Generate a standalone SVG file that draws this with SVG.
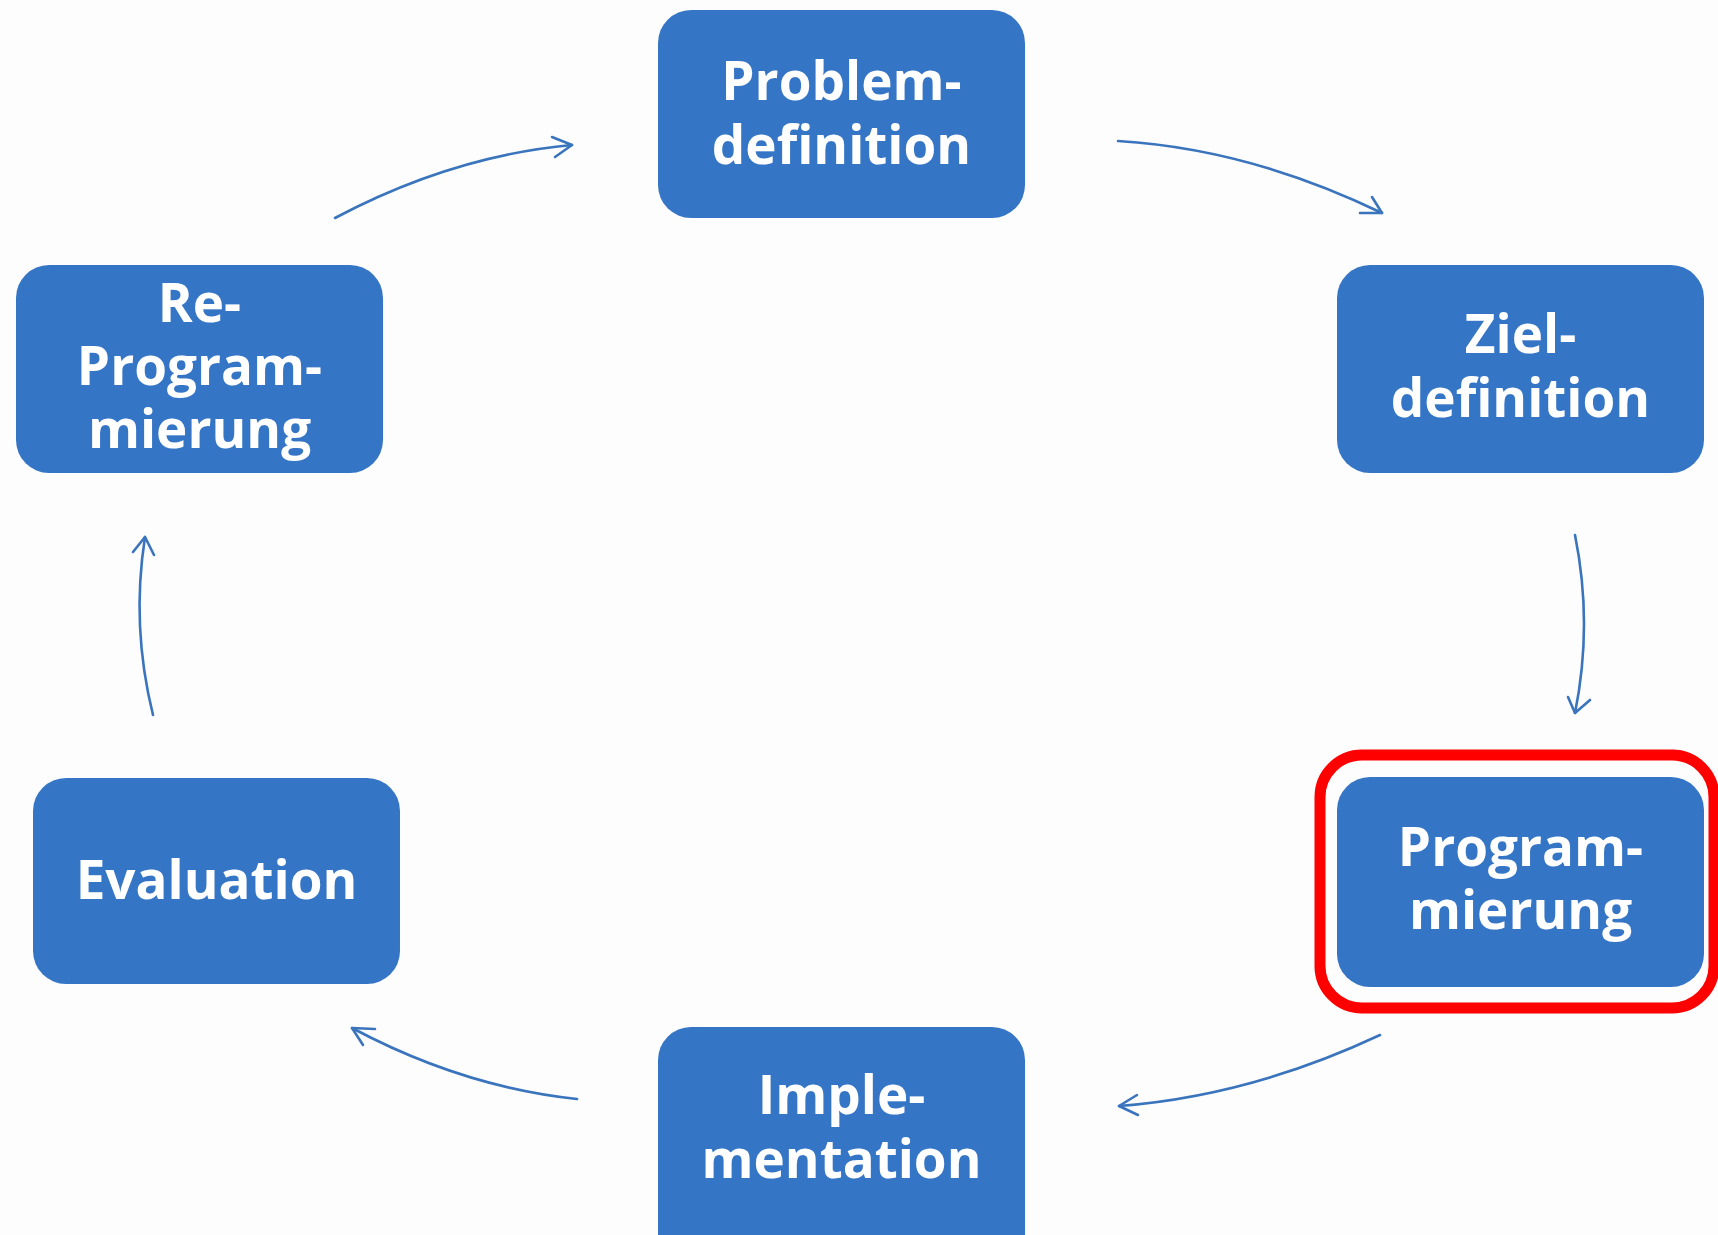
<svg xmlns="http://www.w3.org/2000/svg" width="1718" height="1235" viewBox="0 0 1718 1235">
<defs>
<style>
.box{fill:#3575c5;}
.lbl{fill:#ffffff;font-family:"Open Sans","Noto Sans","Liberation Sans",sans-serif;font-weight:bold;font-size:53px;text-anchor:middle;}
.con{fill:none;stroke:#3a74bd;stroke-width:2.6;stroke-linecap:round;stroke-linejoin:round;}
</style>
</defs>
<rect x="0" y="0" width="1718" height="1235" fill="#fdfdfd"/>
<g id="node-problem">
<rect class="box" x="658" y="10" width="367" height="208" rx="33"/>
<text class="lbl" x="841.5" y="100">Problem-</text>
<text class="lbl" x="841.5" y="164">definition</text>
</g>
<g id="node-ziel">
<rect class="box" x="1337" y="265" width="367" height="208" rx="33"/>
<text class="lbl" x="1520.5" y="353">Ziel-</text>
<text class="lbl" x="1520.5" y="417">definition</text>
</g>
<g id="node-programmierung">
<rect class="box" x="1337" y="777" width="367" height="210" rx="33"/>
<text class="lbl" x="1520.5" y="866">Program-</text>
<text class="lbl" x="1520.5" y="929">mierung</text>
<rect x="1320" y="755" width="394" height="253" rx="42" fill="none" stroke="#ff0000" stroke-width="11"/>
</g>
<g id="node-implementation">
<rect class="box" x="658" y="1027" width="367" height="240" rx="33"/>
<text class="lbl" x="841.5" y="1114">Imple-</text>
<text class="lbl" x="841.5" y="1178">mentation</text>
</g>
<g id="node-evaluation">
<rect class="box" x="33" y="778" width="367" height="206" rx="33"/>
<text class="lbl" x="216.5" y="899">Evaluation</text>
</g>
<g id="node-reprogrammierung">
<rect class="box" x="16" y="265" width="367" height="208" rx="33"/>
<text class="lbl" x="199.5" y="322">Re-</text>
<text class="lbl" x="199.5" y="385">Program-</text>
<text class="lbl" x="199.5" y="448">mierung</text>
</g>
<g id="connectors">
<path class="con" d="M335,218 Q452,156 572,145"/>
<path class="con" d="M552,137 L572,145 L555,157"/>
<path class="con" d="M1118,141 Q1250,149 1382,213"/>
<path class="con" d="M1360,213 L1382,213 L1372,197"/>
<path class="con" d="M1575,535 Q1593,624 1575,713"/>
<path class="con" d="M1568,697 L1575,713 L1590,700"/>
<path class="con" d="M1380,1035 Q1250,1096 1119,1106"/>
<path class="con" d="M1137,1095 L1119,1106 L1138,1115"/>
<path class="con" d="M577,1099 Q463,1087 352,1028"/>
<path class="con" d="M375,1029 L352,1028 L363,1045"/>
<path class="con" d="M153,715 Q131,626 145,537"/>
<path class="con" d="M133,552 L145,537 L154,555"/>
</g>
</svg>
